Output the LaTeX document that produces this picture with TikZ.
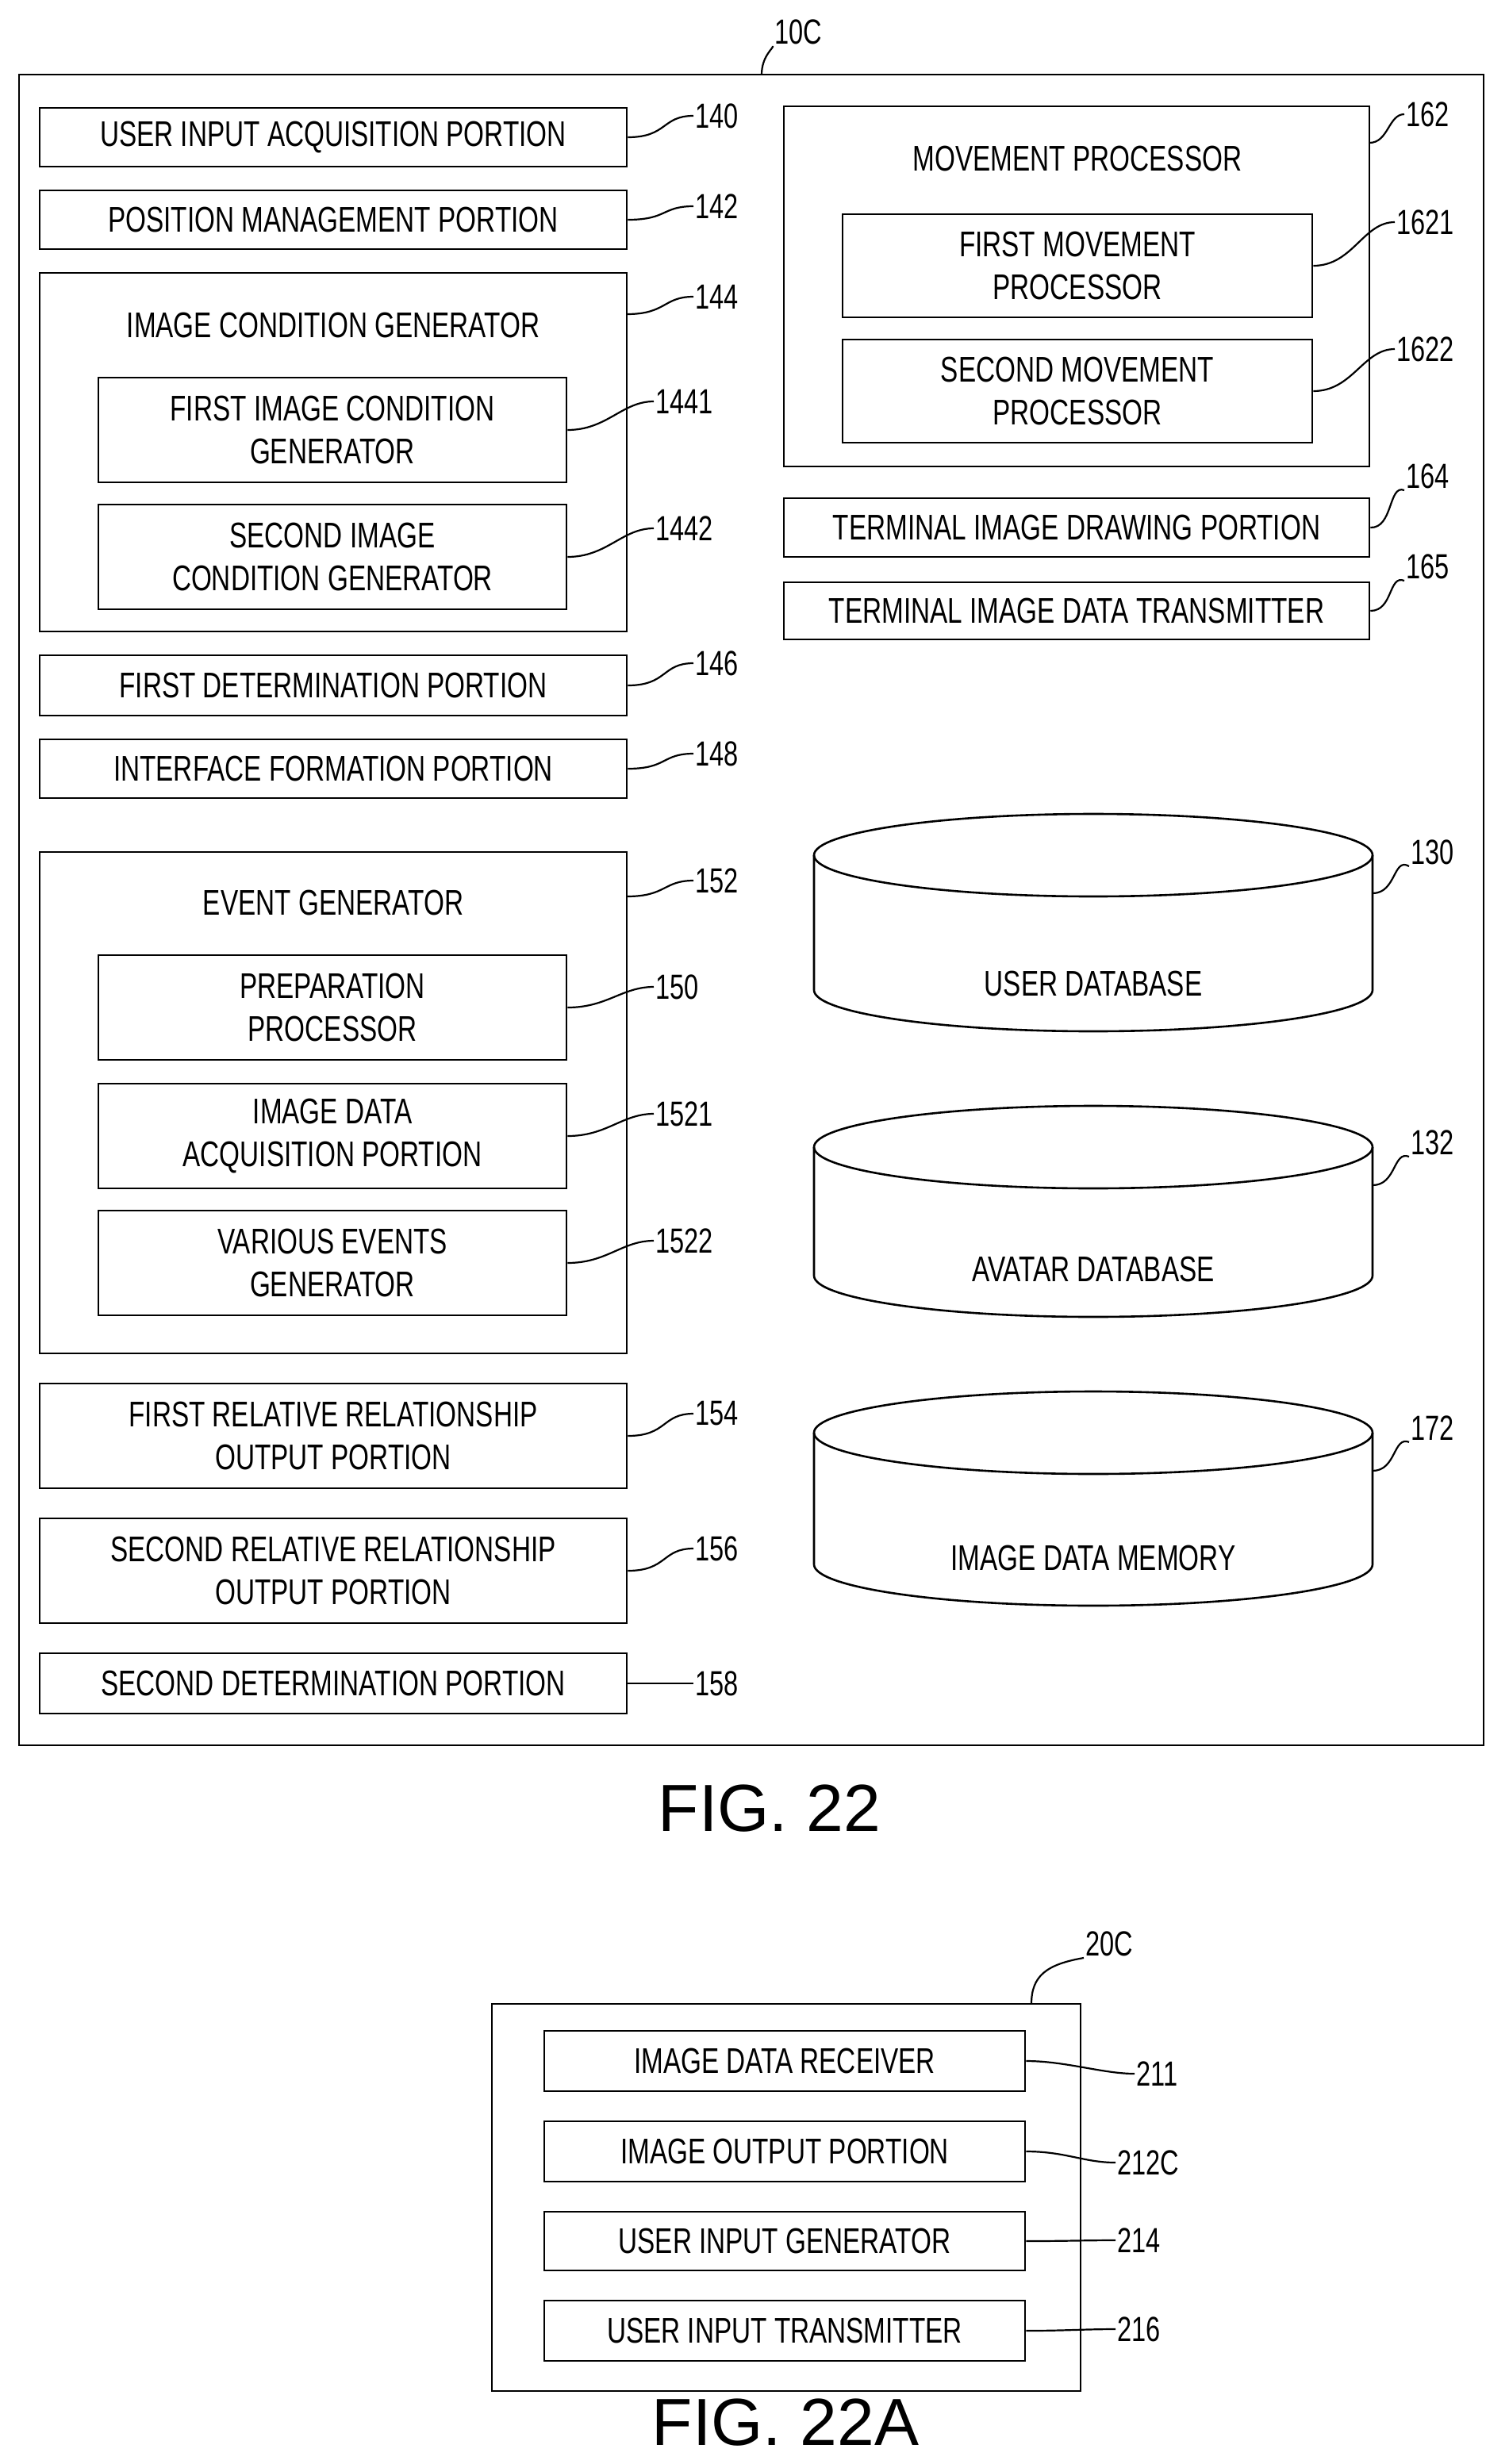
\documentclass[tikz,border=0pt]{standalone}
\usepackage{fontspec}
\setmainfont{Liberation Sans}[FakeStretch=0.74]
\newfontfamily\figfont{Liberation Sans}
\begin{document}
\begin{tikzpicture}[x=1pt,y=-1pt,
  box/.style={draw,line width=1.3pt,inner sep=0pt,align=center,font=\fontsize{22.5}{27}\selectfont},
  lbl/.style={inner sep=1pt,font=\fontsize{22}{24}\selectfont,anchor=west},
  lead/.style={line width=1.1pt},
  ttl/.style={font=\fontsize{22.5}{24}\selectfont}]
\useasboundingbox (0,0) rectangle (936.5,1553);
\newcommand\bx[6]{\node[box,minimum width={(#4-#2)*1pt},minimum height={(#5-#3)*1pt}] (#1) at ({(#2+#4)/2},{(#3+#5)/2}) {#6};}
\newcommand\ld[4]{\node[lbl] (l#1) at (#3,#4) {#2}; \draw[lead] (#1.east) .. controls +(25,0) and +(-20,0) .. (l#1.west);}
\newcommand\cyl[4]{% name top bottom text
  \draw[line width=1.3pt] (689,#2+26) ellipse[x radius=176pt,y radius=26pt];
  \draw[line width=1.3pt] (513,#2+26) -- (513,#3-26) arc[start angle=180,end angle=360,x radius=176pt,y radius=26pt] -- (865,#2+26);
  \node[ttl] (#1) at (689,{#3-30}) {#4};
  \coordinate (#1e) at (865,{#2+50});}
% outer
\bx{outer}{12}{47}{935}{1100}{}
\node[lbl] (l10) at (487,20) {10C};
\draw[lead] (480,47) .. controls (480,35) and (488,30) .. (l10.south west);
% left
\bx{a140}{25}{68}{395}{105}{USER INPUT ACQUISITION PORTION}\ld{a140}{140}{437}{73}
\bx{a142}{25}{120}{395}{157}{POSITION MANAGEMENT PORTION}\ld{a142}{142}{437}{130}
\bx{a144}{25}{172}{395}{398}{}\node[ttl] at (210,205) {IMAGE CONDITION GENERATOR};
\draw[lead] (395,198) .. controls (420,198) and (418,187) .. (437,187); \node[lbl] at (437,187) {144};
\bx{a1441}{62}{238}{357}{304}{FIRST IMAGE CONDITION\\GENERATOR}\ld{a1441}{1441}{412}{253}
\bx{a1442}{62}{318}{357}{384}{SECOND IMAGE\\CONDITION GENERATOR}\ld{a1442}{1442}{412}{333}
\bx{a146}{25}{413}{395}{451}{FIRST DETERMINATION PORTION}\ld{a146}{146}{437}{418}
\bx{a148}{25}{466}{395}{503}{INTERFACE FORMATION PORTION}\ld{a148}{148}{437}{475}
\bx{a152}{25}{537}{395}{853}{}\node[ttl] at (210,569) {EVENT GENERATOR};
\draw[lead] (395,565) .. controls (420,565) and (418,555) .. (437,555); \node[lbl] at (437,555) {152};
\bx{a150}{62}{602}{357}{668}{PREPARATION\\PROCESSOR}\ld{a150}{150}{412}{622}
\bx{a1521}{62}{683}{357}{749}{IMAGE DATA\\ACQUISITION PORTION}\ld{a1521}{1521}{412}{702}
\bx{a1522}{62}{763}{357}{829}{VARIOUS EVENTS\\GENERATOR}\ld{a1522}{1522}{412}{782}
\bx{a154}{25}{872}{395}{938}{FIRST RELATIVE RELATIONSHIP\\OUTPUT PORTION}\ld{a154}{154}{437}{891}
\bx{a156}{25}{957}{395}{1023}{SECOND RELATIVE RELATIONSHIP\\OUTPUT PORTION}\ld{a156}{156}{437}{976}
\bx{a158}{25}{1042}{395}{1080}{SECOND DETERMINATION PORTION}\ld{a158}{158}{437}{1061}
% right
\bx{a162}{494}{67}{863}{294}{}\node[ttl] at (679,100) {MOVEMENT PROCESSOR};
\draw[lead] (863,90) .. controls (875,90) and (875,72) .. (885,72); \node[lbl] at (885,72) {162};
\bx{a1621}{531}{135}{827}{200}{FIRST MOVEMENT\\PROCESSOR}\ld{a1621}{1621}{879}{140}
\bx{a1622}{531}{214}{827}{279}{SECOND MOVEMENT\\PROCESSOR}\ld{a1622}{1622}{879}{220}
\bx{a164}{494}{314}{863}{351}{TERMINAL IMAGE DRAWING PORTION}
\node[lbl] (l164) at (885,300) {164}; \draw[lead] (a164.east) .. controls (878,333) and (875,305) .. (l164.south west);
\bx{a165}{494}{367}{863}{403}{TERMINAL IMAGE DATA TRANSMITTER}
\node[lbl] (l165) at (885,357) {165}; \draw[lead] (a165.east) .. controls (878,385) and (875,362) .. (l165.south west);
\cyl{c130}{513}{650}{USER DATABASE}
\node[lbl] (l130) at (888,537) {130}; \draw[lead] (c130e) .. controls (880,563) and (878,540) .. (l130.south west);
\cyl{c132}{697}{830}{AVATAR DATABASE}
\node[lbl] (l132) at (888,720) {132}; \draw[lead] (c132e) .. controls (880,747) and (878,725) .. (l132.south west);
\cyl{c172}{877}{1012}{IMAGE DATA MEMORY}
\node[lbl] (l172) at (888,900) {172}; \draw[lead] (c172e) .. controls (880,927) and (878,905) .. (l172.south west);
\node[font=\figfont\fontsize{42}{48}\selectfont] (f22) at (485,1140) {FIG. 22};
% lower
\bx{b20}{310}{1263}{681}{1507}{}
\node[lbl] (l20) at (683,1225) {20C};
\draw[lead] (650,1263) .. controls (650,1245) and (660,1238) .. (l20.south west);
\bx{b211}{343}{1280}{646}{1318}{IMAGE DATA RECEIVER}\ld{b211}{211}{715}{1307}
\bx{b212}{343}{1337}{646}{1375}{IMAGE OUTPUT PORTION}\ld{b212}{212C}{703}{1363}
\bx{b214}{343}{1394}{646}{1431}{USER INPUT GENERATOR}\ld{b214}{214}{703}{1412}
\bx{b216}{343}{1450}{646}{1488}{USER INPUT TRANSMITTER}\ld{b216}{216}{703}{1468}
\node[font=\figfont\fontsize{42}{48}\selectfont] (f22a) at (495,1527) {FIG. 22A};
\end{tikzpicture}
\end{document}
